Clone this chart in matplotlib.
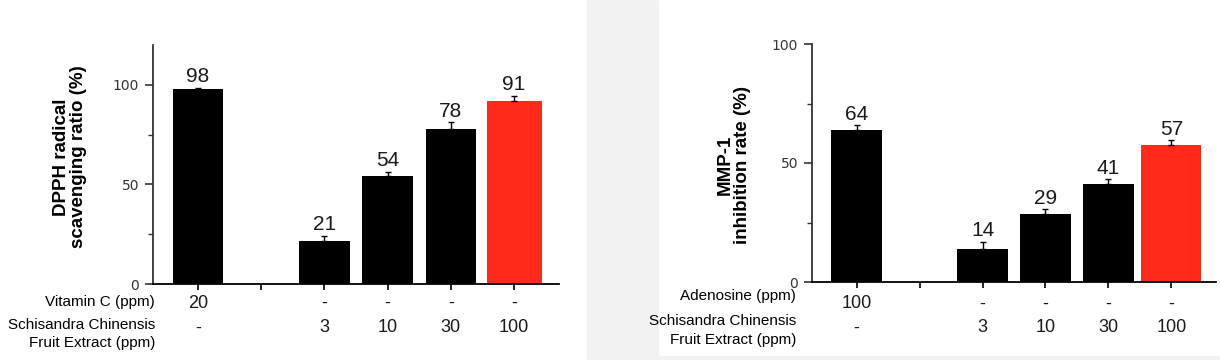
"""
Two-panel bar chart: DPPH scavenging and MMP-1 inhibition of
Schisandra Chinensis fruit extract vs positive controls.
"""

import matplotlib
matplotlib.use("Agg")
import matplotlib.pyplot as plt
from matplotlib.patches import Rectangle
from matplotlib.ticker import MultipleLocator
from matplotlib.transforms import blended_transform_factory

# --- data -------------------------------------------------------------------
dpph_values = [98, 21.5, 54, 78, 92]
dpph_err = [0.5, 2.7, 2.4, 3.3, 2.6]
dpph_labels = ["98", "21", "54", "78", "91"]
vitc_row = ["20", "-", "-", "-", "-"]

mmp_values = [64, 13.7, 28.5, 41.3, 57.4]
mmp_err = [2.0, 3.2, 2.1, 1.8, 2.1]
mmp_labels = ["64", "14", "29", "41", "57"]
adenosine_row = ["100", "-", "-", "-", "-"]

extract_row = ["-", "3", "10", "30", "100"]
bar_colors = ["black", "black", "black", "black", "#fe2b1b"]

W, H = 1220, 360
FONT = "Liberation Sans"
GRAY_BG = "#f2f2f2"

plt.rcParams["font.family"] = [FONT, "DejaVu Sans"]

fig = plt.figure(figsize=(W / 100, H / 100), dpi=100)


def fx(px):
    return px / W


def fy(py):
    return 1 - py / H


# light gray separators of the original layout
fig.add_artist(Rectangle((fx(587), 0), fx(658) - fx(587), 1,
                         transform=fig.transFigure, color=GRAY_BG, zorder=0))
fig.add_artist(Rectangle((fx(658), 0), 1 - fx(658), fy(356),
                         transform=fig.transFigure, color=GRAY_BG, zorder=0))


def panel(rect, values, errs, labels, ymax, widths, ylabel, ylab_xy,
          row1_name, row1, row1_y, row2_y, rows_y, names_x):
    ax = fig.add_axes(rect)
    xs = [0] + [i + 1 for i in range(1, len(values))]   # gap after control
    ax.bar(xs, values, width=widths, color=bar_colors, zorder=2)
    ax.errorbar(xs, values, yerr=[[0] * len(errs), errs], fmt="none",
                ecolor="black", elinewidth=1, capsize=2.5, capthick=1, zorder=3)
    for x, v, e, lab in zip(xs, values, errs, labels):
        ax.annotate(lab, (x, v + e), xytext=(0, 1), textcoords="offset points",
                    ha="center", va="bottom", fontsize=15, color="#1a1a1a")

    ax.set_xlim(-0.71, 5.71)
    ax.set_ylim(0, ymax)
    ax.yaxis.set_major_locator(MultipleLocator(50))
    ax.yaxis.set_minor_locator(MultipleLocator(25))
    ax.set_xticks(range(6))
    ax.set_xticklabels([])
    for s in ("top", "right"):
        ax.spines[s].set_visible(False)
    ax.spines["left"].set_color("#333333")
    ax.spines["left"].set_linewidth(1.3)
    ax.spines["bottom"].set_linewidth(1.3)
    ax.tick_params(axis="y", which="major", length=6, width=1.2,
                   colors="#333333", labelsize=10, pad=4)
    ax.tick_params(axis="y", which="minor", length=3.5, width=1.0,
                   colors="#333333")
    ax.tick_params(axis="x", length=4, width=1.2)
    for t in ax.get_yticklabels():
        t.set_family("DejaVu Sans")
    ax.patch.set_alpha(0)

    fig.text(fx(ylab_xy[0]), fy(ylab_xy[1]), ylabel,
             rotation=90, ha="center", va="center", fontsize=13.5,
             fontweight="bold", linespacing=1.05)

    tr = blended_transform_factory(ax.transData, fig.transFigure)
    for x, a, b in zip(xs, row1, extract_row):
        ax.text(x, fy(rows_y[0]), a, transform=tr, ha="center", va="center",
                fontsize=13, color="#1a1a1a")
        ax.text(x, fy(rows_y[1]), b, transform=tr, ha="center", va="center",
                fontsize=13, color="#1a1a1a")
    fig.text(fx(names_x), fy(row1_y), row1_name, ha="right", va="center",
             fontsize=11)
    fig.text(fx(names_x), fy(row2_y[0]), "Schisandra Chinensis", ha="right",
             va="center", fontsize=11)
    fig.text(fx(names_x), fy(row2_y[1]), "Fruit Extract (ppm)", ha="right",
             va="center", fontsize=11)
    return ax


panel([fx(153), fy(284), fx(559) - fx(153), fy(45) - fy(284)],
      dpph_values, dpph_err, dpph_labels, 120,
      [0.8, 0.8, 0.8, 0.8, 0.87],
      "DPPH radical\nscavenging ratio (%)", (70, 157),
      "Vitamin C (ppm)", vitc_row, 302, (325, 343), (303, 328), 155)

panel([fx(812), fy(282), fx(1216) - fx(812), fy(44) - fy(282)],
      mmp_values, mmp_err, mmp_labels, 100,
      [0.82, 0.8, 0.8, 0.8, 0.95],
      "MMP-1\ninhibition rate (%)", (734, 165),
      "Adenosine (ppm)", adenosine_row, 296, (321, 340), (304, 328), 796)

fig.savefig("out.png", dpi=100)
